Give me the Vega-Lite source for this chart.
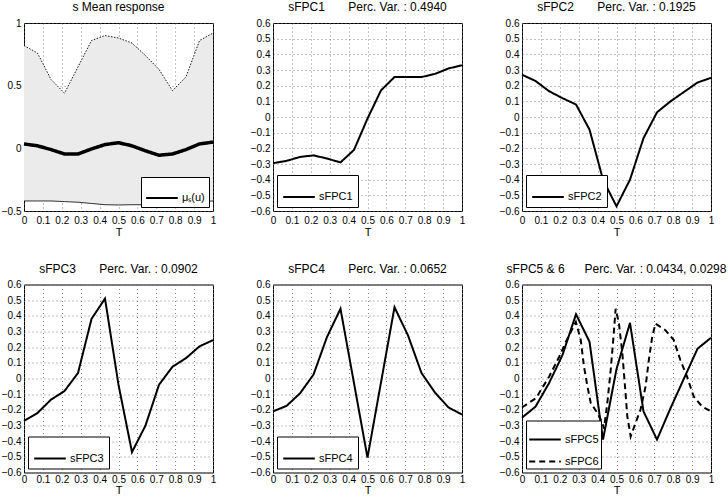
{
  "$schema": "https://vega.github.io/schema/vega-lite/v6.json",
  "background": "white",
  "padding": {"left": 0, "top": 0, "right": 0, "bottom": 0},
  "bounds": "flush",
  "columns": 3,
  "spacing": {"row": 73.5, "column": 60},
  "resolve": {"scale": {"strokeDash": "independent"}, "legend": {"strokeDash": "independent"}},
  "config": {
    "font": "Liberation Sans",
    "view": {"stroke": "black", "strokeWidth": 1},
    "axis": {
      "grid": true, "gridColor": "#666", "gridDash": [1, 3], "gridWidth": 0.8,
      "ticks": false, "domain": false, "labelFontSize": 10, "labelColor": "black",
      "labelPadding": 3, "labelFlush": false, "labelOverlap": false,
      "titleFontWeight": "normal", "titleFontSize": 11, "titleColor": "black", "format": "~g"
    },
    "axisX": {"labelPadding": 4, "titlePadding": 1, "labelAngle": 0},
    "title": {"fontSize": 12, "fontWeight": "normal", "offset": 0, "color": "black", "anchor": "middle"},
    "line": {"color": "black", "strokeWidth": 2},
    "legend": {
      "strokeColor": "black", "fillColor": "white", "padding": 5, "offset": 4,
      "symbolType": "stroke", "symbolSize": 1000, "symbolStrokeWidth": 2, "symbolStrokeColor": "black",
      "labelFontSize": 11, "labelColor": "black", "labelOffset": 3, "rowPadding": 0, "cornerRadius": 0
    }
  },
  "datasets": {
    "mean": [
      {"t": 0, "upper": 0.82, "mean": 0.035, "lower": -0.42},
      {"t": 0.0714, "upper": 0.76, "mean": 0.02, "lower": -0.42},
      {"t": 0.1429, "upper": 0.55, "mean": -0.01, "lower": -0.42},
      {"t": 0.2143, "upper": 0.44, "mean": -0.045, "lower": -0.425},
      {"t": 0.2857, "upper": 0.65, "mean": -0.045, "lower": -0.43},
      {"t": 0.3571, "upper": 0.86, "mean": -0.005, "lower": -0.44},
      {"t": 0.4286, "upper": 0.9, "mean": 0.03, "lower": -0.45},
      {"t": 0.5, "upper": 0.88, "mean": 0.045, "lower": -0.452},
      {"t": 0.5714, "upper": 0.84, "mean": 0.02, "lower": -0.45},
      {"t": 0.6429, "upper": 0.74, "mean": -0.02, "lower": -0.45},
      {"t": 0.7143, "upper": 0.63, "mean": -0.055, "lower": -0.45},
      {"t": 0.7857, "upper": 0.46, "mean": -0.045, "lower": -0.44},
      {"t": 0.8571, "upper": 0.57, "mean": -0.01, "lower": -0.43},
      {"t": 0.9286, "upper": 0.86, "mean": 0.035, "lower": -0.425},
      {"t": 1, "upper": 0.92, "mean": 0.05, "lower": -0.42}
    ],
    "fpc": [
      {"comp": "sFPC1", "t": 0, "v": -0.295},
      {"comp": "sFPC1", "t": 0.0714, "v": -0.28},
      {"comp": "sFPC1", "t": 0.1429, "v": -0.255},
      {"comp": "sFPC1", "t": 0.2143, "v": -0.245},
      {"comp": "sFPC1", "t": 0.2857, "v": -0.265},
      {"comp": "sFPC1", "t": 0.3571, "v": -0.29},
      {"comp": "sFPC1", "t": 0.4286, "v": -0.21},
      {"comp": "sFPC1", "t": 0.5, "v": -0.01},
      {"comp": "sFPC1", "t": 0.5714, "v": 0.17},
      {"comp": "sFPC1", "t": 0.6429, "v": 0.255},
      {"comp": "sFPC1", "t": 0.7143, "v": 0.255},
      {"comp": "sFPC1", "t": 0.7857, "v": 0.255},
      {"comp": "sFPC1", "t": 0.8571, "v": 0.275},
      {"comp": "sFPC1", "t": 0.9286, "v": 0.31},
      {"comp": "sFPC1", "t": 1, "v": 0.33},
      {"comp": "sFPC2", "t": 0, "v": 0.27},
      {"comp": "sFPC2", "t": 0.0714, "v": 0.23},
      {"comp": "sFPC2", "t": 0.1429, "v": 0.165},
      {"comp": "sFPC2", "t": 0.2143, "v": 0.12},
      {"comp": "sFPC2", "t": 0.2857, "v": 0.08},
      {"comp": "sFPC2", "t": 0.3571, "v": -0.08},
      {"comp": "sFPC2", "t": 0.4286, "v": -0.4},
      {"comp": "sFPC2", "t": 0.5, "v": -0.57},
      {"comp": "sFPC2", "t": 0.5714, "v": -0.4},
      {"comp": "sFPC2", "t": 0.6429, "v": -0.135},
      {"comp": "sFPC2", "t": 0.7143, "v": 0.03},
      {"comp": "sFPC2", "t": 0.7857, "v": 0.1},
      {"comp": "sFPC2", "t": 0.8571, "v": 0.16},
      {"comp": "sFPC2", "t": 0.9286, "v": 0.22},
      {"comp": "sFPC2", "t": 1, "v": 0.25},
      {"comp": "sFPC3", "t": 0, "v": -0.27},
      {"comp": "sFPC3", "t": 0.0714, "v": -0.22},
      {"comp": "sFPC3", "t": 0.1429, "v": -0.135},
      {"comp": "sFPC3", "t": 0.2143, "v": -0.08},
      {"comp": "sFPC3", "t": 0.2857, "v": 0.035},
      {"comp": "sFPC3", "t": 0.3571, "v": 0.38},
      {"comp": "sFPC3", "t": 0.4286, "v": 0.51},
      {"comp": "sFPC3", "t": 0.5, "v": -0.04},
      {"comp": "sFPC3", "t": 0.5714, "v": -0.47},
      {"comp": "sFPC3", "t": 0.6429, "v": -0.3},
      {"comp": "sFPC3", "t": 0.7143, "v": -0.04},
      {"comp": "sFPC3", "t": 0.7857, "v": 0.075},
      {"comp": "sFPC3", "t": 0.8571, "v": 0.13},
      {"comp": "sFPC3", "t": 0.9286, "v": 0.205},
      {"comp": "sFPC3", "t": 1, "v": 0.245},
      {"comp": "sFPC4", "t": 0, "v": -0.21},
      {"comp": "sFPC4", "t": 0.0714, "v": -0.175},
      {"comp": "sFPC4", "t": 0.1429, "v": -0.095},
      {"comp": "sFPC4", "t": 0.2143, "v": 0.025},
      {"comp": "sFPC4", "t": 0.2857, "v": 0.265},
      {"comp": "sFPC4", "t": 0.3571, "v": 0.445},
      {"comp": "sFPC4", "t": 0.4286, "v": -0.03},
      {"comp": "sFPC4", "t": 0.5, "v": -0.505},
      {"comp": "sFPC4", "t": 0.5714, "v": -0.025},
      {"comp": "sFPC4", "t": 0.6429, "v": 0.455},
      {"comp": "sFPC4", "t": 0.7143, "v": 0.275},
      {"comp": "sFPC4", "t": 0.7857, "v": 0.035},
      {"comp": "sFPC4", "t": 0.8571, "v": -0.09},
      {"comp": "sFPC4", "t": 0.9286, "v": -0.185},
      {"comp": "sFPC4", "t": 1, "v": -0.23},
      {"comp": "sFPC5", "t": 0, "v": -0.25},
      {"comp": "sFPC5", "t": 0.0714, "v": -0.18},
      {"comp": "sFPC5", "t": 0.1429, "v": -0.03},
      {"comp": "sFPC5", "t": 0.2143, "v": 0.15},
      {"comp": "sFPC5", "t": 0.2857, "v": 0.41},
      {"comp": "sFPC5", "t": 0.3571, "v": 0.235},
      {"comp": "sFPC5", "t": 0.4286, "v": -0.39},
      {"comp": "sFPC5", "t": 0.5, "v": 0.06},
      {"comp": "sFPC5", "t": 0.5714, "v": 0.355},
      {"comp": "sFPC5", "t": 0.6429, "v": -0.21},
      {"comp": "sFPC5", "t": 0.7143, "v": -0.39},
      {"comp": "sFPC5", "t": 0.7857, "v": -0.19},
      {"comp": "sFPC5", "t": 0.8571, "v": 0.0},
      {"comp": "sFPC5", "t": 0.9286, "v": 0.19},
      {"comp": "sFPC5", "t": 1, "v": 0.26},
      {"comp": "sFPC6", "t": 0, "v": -0.185},
      {"comp": "sFPC6", "t": 0.074, "v": -0.125},
      {"comp": "sFPC6", "t": 0.144, "v": 0.013},
      {"comp": "sFPC6", "t": 0.197, "v": 0.139},
      {"comp": "sFPC6", "t": 0.232, "v": 0.234},
      {"comp": "sFPC6", "t": 0.285, "v": 0.361},
      {"comp": "sFPC6", "t": 0.311, "v": 0.245},
      {"comp": "sFPC6", "t": 0.328, "v": 0.076},
      {"comp": "sFPC6", "t": 0.346, "v": -0.05},
      {"comp": "sFPC6", "t": 0.364, "v": -0.157},
      {"comp": "sFPC6", "t": 0.399, "v": -0.22},
      {"comp": "sFPC6", "t": 0.425, "v": -0.283},
      {"comp": "sFPC6", "t": 0.434, "v": -0.32},
      {"comp": "sFPC6", "t": 0.452, "v": -0.15},
      {"comp": "sFPC6", "t": 0.469, "v": 0.05},
      {"comp": "sFPC6", "t": 0.483, "v": 0.25},
      {"comp": "sFPC6", "t": 0.4955, "v": 0.445},
      {"comp": "sFPC6", "t": 0.513, "v": 0.35},
      {"comp": "sFPC6", "t": 0.531, "v": 0.16},
      {"comp": "sFPC6", "t": 0.545, "v": -0.05},
      {"comp": "sFPC6", "t": 0.557, "v": -0.24},
      {"comp": "sFPC6", "t": 0.575, "v": -0.37},
      {"comp": "sFPC6", "t": 0.601, "v": -0.283},
      {"comp": "sFPC6", "t": 0.627, "v": -0.2},
      {"comp": "sFPC6", "t": 0.654, "v": -0.05},
      {"comp": "sFPC6", "t": 0.671, "v": 0.118},
      {"comp": "sFPC6", "t": 0.689, "v": 0.266},
      {"comp": "sFPC6", "t": 0.706, "v": 0.35},
      {"comp": "sFPC6", "t": 0.759, "v": 0.308},
      {"comp": "sFPC6", "t": 0.803, "v": 0.245},
      {"comp": "sFPC6", "t": 0.838, "v": 0.118},
      {"comp": "sFPC6", "t": 0.873, "v": 0.013},
      {"comp": "sFPC6", "t": 0.908, "v": -0.114},
      {"comp": "sFPC6", "t": 0.952, "v": -0.178},
      {"comp": "sFPC6", "t": 1, "v": -0.21}
    ]
  },
  "concat": [
    {
      "width": 189, "height": 188,
      "title": "s Mean response",
      "data": {"name": "mean"},
      "encoding": {
        "x": {"field": "t", "type": "quantitative", "scale": {"domain": [0, 1], "nice": false},
              "axis": {"values": [0, 0.1, 0.2, 0.3, 0.4, 0.5, 0.6, 0.7, 0.8, 0.9, 1], "title": "T"}}
      },
      "layer": [
        {
          "mark": {"type": "area", "color": "#ebebeb"},
          "encoding": {
            "y": {"field": "lower", "type": "quantitative", "scale": {"domain": [-0.5, 1], "nice": false, "zero": false},
                  "axis": {"values": [-0.5, 0, 0.5, 1], "title": null}},
            "y2": {"field": "upper"}
          }
        },
        {
          "mark": {"type": "line", "strokeWidth": 0.9, "strokeDash": [1.5, 1.5]},
          "encoding": {"y": {"field": "upper", "type": "quantitative", "title": null}}
        },
        {
          "mark": {"type": "line", "strokeWidth": 0.8},
          "encoding": {"y": {"field": "lower", "type": "quantitative", "title": null}}
        },
        {
          "mark": {"type": "line", "strokeWidth": 3.5},
          "encoding": {
            "y": {"field": "mean", "type": "quantitative", "title": null},
            "strokeDash": {"datum": "μₛ(u)", "type": "nominal", "scale": {"range": [[1, 0]]},
                           "legend": {"title": null, "orient": "bottom-right", "symbolStrokeWidth": 3.5, "padding": 4}}
          }
        }
      ]
    },
    {
      "width": 189, "height": 188,
      "title": "sFPC1\u00a0\u00a0\u00a0\u00a0\u00a0\u00a0\u00a0Perc. Var. : 0.4940",
      "data": {"name": "fpc"},
      "transform": [{"filter": "datum.comp === 'sFPC1'"}],
      "mark": "line",
      "encoding": {
        "x": {"field": "t", "type": "quantitative", "scale": {"domain": [0, 1], "nice": false},
              "axis": {"values": [0, 0.1, 0.2, 0.3, 0.4, 0.5, 0.6, 0.7, 0.8, 0.9, 1], "title": "T"}},
        "y": {"field": "v", "type": "quantitative", "scale": {"domain": [-0.6, 0.6], "nice": false, "zero": false},
              "axis": {"values": [-0.6, -0.5, -0.4, -0.3, -0.2, -0.1, 0, 0.1, 0.2, 0.3, 0.4, 0.5, 0.6], "title": null}},
        "strokeDash": {"field": "comp", "type": "nominal", "scale": {"range": [[1, 0]]},
                       "legend": {"title": null, "orient": "bottom-left"}}
      }
    },
    {
      "width": 189, "height": 188,
      "title": "sFPC2\u00a0\u00a0\u00a0\u00a0\u00a0\u00a0\u00a0Perc. Var. : 0.1925",
      "data": {"name": "fpc"},
      "transform": [{"filter": "datum.comp === 'sFPC2'"}],
      "mark": "line",
      "encoding": {
        "x": {"field": "t", "type": "quantitative", "scale": {"domain": [0, 1], "nice": false},
              "axis": {"values": [0, 0.1, 0.2, 0.3, 0.4, 0.5, 0.6, 0.7, 0.8, 0.9, 1], "title": "T"}},
        "y": {"field": "v", "type": "quantitative", "scale": {"domain": [-0.6, 0.6], "nice": false, "zero": false},
              "axis": {"values": [-0.6, -0.5, -0.4, -0.3, -0.2, -0.1, 0, 0.1, 0.2, 0.3, 0.4, 0.5, 0.6], "title": null}},
        "strokeDash": {"field": "comp", "type": "nominal", "scale": {"range": [[1, 0]]},
                       "legend": {"title": null, "orient": "bottom-left"}}
      }
    },
    {
      "width": 189, "height": 188,
      "title": "sFPC3\u00a0\u00a0\u00a0\u00a0\u00a0\u00a0\u00a0Perc. Var. : 0.0902",
      "data": {"name": "fpc"},
      "transform": [{"filter": "datum.comp === 'sFPC3'"}],
      "mark": "line",
      "encoding": {
        "x": {"field": "t", "type": "quantitative", "scale": {"domain": [0, 1], "nice": false},
              "axis": {"values": [0, 0.1, 0.2, 0.3, 0.4, 0.5, 0.6, 0.7, 0.8, 0.9, 1], "title": "T", "labelPadding": 2, "titlePadding": 0}},
        "y": {"field": "v", "type": "quantitative", "scale": {"domain": [-0.6, 0.6], "nice": false, "zero": false},
              "axis": {"values": [-0.6, -0.5, -0.4, -0.3, -0.2, -0.1, 0, 0.1, 0.2, 0.3, 0.4, 0.5, 0.6], "title": null}},
        "strokeDash": {"field": "comp", "type": "nominal", "scale": {"range": [[1, 0]]},
                       "legend": {"title": null, "orient": "bottom-left"}}
      }
    },
    {
      "width": 189, "height": 188,
      "title": "sFPC4\u00a0\u00a0\u00a0\u00a0\u00a0\u00a0\u00a0Perc. Var. : 0.0652",
      "data": {"name": "fpc"},
      "transform": [{"filter": "datum.comp === 'sFPC4'"}],
      "mark": "line",
      "encoding": {
        "x": {"field": "t", "type": "quantitative", "scale": {"domain": [0, 1], "nice": false},
              "axis": {"values": [0, 0.1, 0.2, 0.3, 0.4, 0.5, 0.6, 0.7, 0.8, 0.9, 1], "title": "T", "labelPadding": 2, "titlePadding": 0}},
        "y": {"field": "v", "type": "quantitative", "scale": {"domain": [-0.6, 0.6], "nice": false, "zero": false},
              "axis": {"values": [-0.6, -0.5, -0.4, -0.3, -0.2, -0.1, 0, 0.1, 0.2, 0.3, 0.4, 0.5, 0.6], "title": null}},
        "strokeDash": {"field": "comp", "type": "nominal", "scale": {"range": [[1, 0]]},
                       "legend": {"title": null, "orient": "bottom-left"}}
      }
    },
    {
      "width": 189, "height": 188,
      "title": "sFPC5 & 6\u00a0\u00a0\u00a0\u00a0\u00a0\u00a0Perc. Var. : 0.0434, 0.0298",
      "data": {"name": "fpc"},
      "transform": [{"filter": "datum.comp === 'sFPC5' || datum.comp === 'sFPC6'"}],
      "mark": "line",
      "encoding": {
        "x": {"field": "t", "type": "quantitative", "scale": {"domain": [0, 1], "nice": false},
              "axis": {"values": [0, 0.1, 0.2, 0.3, 0.4, 0.5, 0.6, 0.7, 0.8, 0.9, 1], "title": "T", "labelPadding": 2, "titlePadding": 0}},
        "y": {"field": "v", "type": "quantitative", "scale": {"domain": [-0.6, 0.6], "nice": false, "zero": false},
              "axis": {"values": [-0.6, -0.5, -0.4, -0.3, -0.2, -0.1, 0, 0.1, 0.2, 0.3, 0.4, 0.5, 0.6], "title": null}},
        "strokeDash": {"field": "comp", "type": "nominal", "scale": {"domain": ["sFPC5", "sFPC6"], "range": [[1, 0], [6, 4]]},
                       "legend": {"title": null, "orient": "bottom-left", "padding": 2, "rowPadding": -1}}
      }
    }
  ]
}
